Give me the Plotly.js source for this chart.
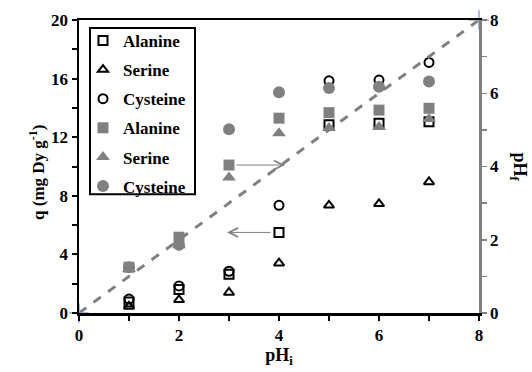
<!DOCTYPE html>
<html>
<head>
<meta charset="utf-8">
<script src="https://cdn.plot.ly/plotly-3.0.1.min.js"></script>
<style>html,body{margin:0;padding:0;background:#fff}#chart{width:532px;height:372px}</style>
</head>
<body>
<div id="chart"></div>
<script>
// Data
const pHi = [1, 2, 3, 4, 5, 6, 7];
// Adsorbed amount q (mg Dy g^-1), left axis (open symbols)
const qAlanine  = [0.75, 1.6, 2.65, 5.5, 12.85, 12.95, 13.05];
const qSerine   = [0.45, 0.9, 1.4, 3.4, 7.35, 7.45, 8.95];
const qCysteine = [0.95, 1.85, 2.85, 7.35, 15.85, 15.9, 17.1];
// Final pH, right axis (filled symbols)
const pHfAlanine  = [1.25, 2.07, 4.04, 5.32, 5.47, 5.54, 5.59];
const pHfSerine   = [1.2, 1.85, 3.7, 4.91, 5.05, 5.08, 5.3];
const pHfCysteine = [1.25, 1.86, 5.02, 6.03, 6.14, 6.18, 6.32];
// Reference line pHf = pHi
const refX = [0, 8];
const refY = [0, 8];
const names = ['Alanine', 'Serine', 'Cysteine'];

const FONT = "'Liberation Serif', 'DejaVu Serif', serif";
const gray = '#808080';

const openMarker = (sym) => ({symbol: sym, size: 9, color: '#000', line: {color: '#000', width: 2}});
const fillMarker = (sym, sz) => ({symbol: sym, size: sz, color: gray, line: {width: 0}});

const traces = [
  {x: refX, y: refY, yaxis: 'y2', mode: 'lines+markers', showlegend: false, cliponaxis: false,
   line: {color: gray, width: 3, dash: 'dash'},
   marker: {symbol: 'cross-thin-open', size: 14, color: '#8ea6d4', line: {color: '#8ea6d4', width: 1.5}}},
  {x: pHi, y: qAlanine, name: '<b>' + names[0] + '</b>', mode: 'markers', marker: openMarker('square-open'), legendgroup: 'a'},
  {x: pHi, y: qSerine, name: '<b>' + names[1] + '</b>', mode: 'markers', marker: openMarker('triangle-up-open'), legendgroup: 'b'},
  {x: pHi, y: qCysteine, name: '<b>' + names[2] + '</b>', mode: 'markers', marker: openMarker('circle-open'), legendgroup: 'c'},
  {x: pHi, y: pHfAlanine, yaxis: 'y2', name: '<b>' + names[0] + '</b>', mode: 'markers', marker: fillMarker('square', 11), legendgroup: 'd'},
  {x: pHi, y: pHfSerine, yaxis: 'y2', name: '<b>' + names[1] + '</b>', mode: 'markers', marker: fillMarker('triangle-up', 12), legendgroup: 'e'},
  {x: pHi, y: pHfCysteine, yaxis: 'y2', name: '<b>' + names[2] + '</b>', mode: 'markers', marker: fillMarker('circle', 12), legendgroup: 'f'}
];

const tickFont = {family: FONT, size: 17, color: '#000', weight: 700};
const titleFont = {family: FONT, size: 18, color: '#000'};

const layout = {
  width: 532, height: 372,
  margin: {l: 79, r: 53, t: 20, b: 59},
  paper_bgcolor: '#fff', plot_bgcolor: '#fff',
  font: {family: FONT, color: '#000'},
  showlegend: true,
  legend: {
    x: 0.01, y: 0.99, xanchor: 'left', yanchor: 'top',
    bgcolor: 'rgba(0,0,0,0)', borderwidth: 0,
    font: {family: FONT, size: 17, color: '#000'},
    tracegroupgap: 4, traceorder: 'grouped', itemwidth: 30
  },
  shapes: [
    {type: 'rect', xref: 'paper', yref: 'paper', layer: 'below',
     x0: 0.0275, x1: 0.29, y0: 0.405, y1: 0.973,
     line: {color: '#000', width: 2}, fillcolor: '#fff'}
  ],
  xaxis: {
    range: [0, 8], dtick: 2, tick0: 0, showgrid: false, zeroline: false,
    showline: true, linecolor: '#000', linewidth: 2.5, mirror: true,
    ticks: 'outside', ticklen: 5, tickwidth: 2, tickcolor: '#000',
    minor: {dtick: 1, ticks: 'outside', ticklen: 5, tickwidth: 2, tickcolor: '#000', showgrid: false},
    tickfont: tickFont,
    title: {text: '<b>pH<sub>i</sub></b>', font: titleFont, standoff: 0}
  },
  yaxis: {
    range: [0, 20], dtick: 4, tick0: 0, showgrid: false, zeroline: false,
    showline: true, linecolor: '#000', linewidth: 2.5,
    ticks: 'outside', ticklen: 5, tickwidth: 2, tickcolor: '#000',
    minor: {dtick: 2, ticks: 'outside', ticklen: 5, tickwidth: 2, tickcolor: '#000', showgrid: false},
    tickfont: tickFont
  },
  yaxis2: {
    overlaying: 'y', side: 'right', range: [0, 8], dtick: 2, tick0: 0,
    showgrid: false, zeroline: false,
    showline: true, linecolor: gray, linewidth: 2.5,
    ticks: 'outside', ticklen: 5, tickwidth: 1.5, tickcolor: gray,
    minor: {dtick: 1, ticks: 'outside', ticklen: 5, tickwidth: 1.5, tickcolor: gray, showgrid: false},
    tickfont: tickFont
  },
  annotations: [
    {xref: 'x', yref: 'y', axref: 'x', ayref: 'y', x: 2.96, y: 5.5, ax: 3.86, ay: 5.5,
     text: '', showarrow: true, arrowhead: 5, arrowsize: 1.8, arrowwidth: 1, arrowcolor: gray},
    {xref: 'x', yref: 'y2', axref: 'x', ayref: 'y2', x: 4.12, y: 4.04, ax: 3.12, ay: 4.04,
     text: '', showarrow: true, arrowhead: 5, arrowsize: 1.8, arrowwidth: 1, arrowcolor: gray},
    {xref: 'paper', yref: 'paper', x: -0.105, y: 0.478, xanchor: 'center', yanchor: 'middle',
     text: '<b>q (mg Dy g<sup>-1</sup>)</b>', textangle: -90, showarrow: false,
     font: {family: FONT, size: 17, color: '#000'}},
    {xref: 'paper', yref: 'paper', x: 1.0975, y: 0.5, xanchor: 'center', yanchor: 'middle',
     text: '<b>pH<sub>f</sub></b>', textangle: 90, showarrow: false, font: titleFont}
  ]
};

Plotly.newPlot('chart', traces, layout, {displayModeBar: false, staticPlot: true});
</script>
</body>
</html>
